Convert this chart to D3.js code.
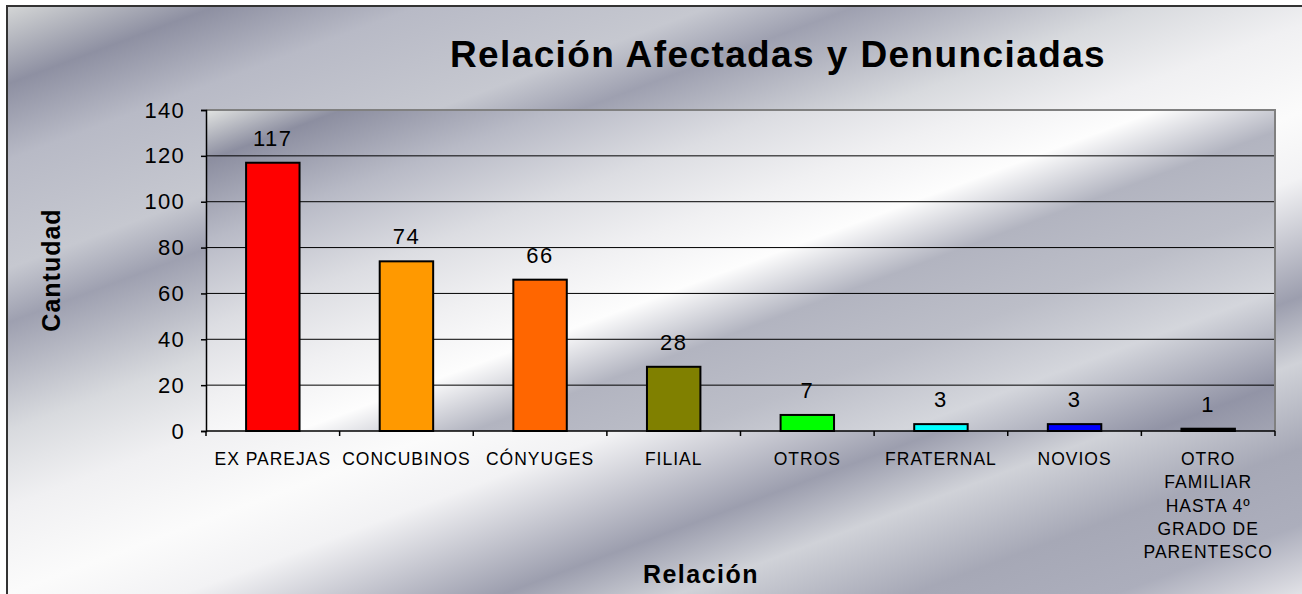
<!DOCTYPE html>
<html>
<head>
<meta charset="utf-8">
<script src="https://cdn.jsdelivr.net/npm/d3@7"></script>
<style>
  body { margin: 0; background: #fff; }
  svg text { font-family: "Liberation Sans", Arial, sans-serif; fill: #000; }
</style>
</head>
<body>
<div id="chart"></div>
<script>
// data
const categories = ["EX PAREJAS", "CONCUBINOS", "CÓNYUGES", "FILIAL", "OTROS", "FRATERNAL", "NOVIOS",
  "OTRO|FAMILIAR|HASTA 4º|GRADO DE|PARENTESCO"];
const values = [117, 74, 66, 28, 7, 3, 3, 1];
const barColors = ["#ff0000", "#ff9900", "#ff6600", "#808000", "#00ff00", "#00ffff", "#0000ff", "#000000"];
const yTicks = [0, 20, 40, 60, 80, 100, 120, 140];

const W = 1302, H = 594;
const margin = { top: 110, right: 27, bottom: 163, left: 206 };
const width = W - margin.left - margin.right;
const height = H - margin.top - margin.bottom;

const svg = d3.select("#chart").append("svg")
  .attr("width", W)
  .attr("height", H);

const defs = svg.append("defs");

// silver background, streaks running up to the right
const outerStops = [
  [0, "#dcdedc"], [0.08, "#8e90a2"], [0.15, "#b8bac6"], [0.25, "#c6c8d0"], [0.30, "#9ea0b0"],
  [0.40, "#d8dade"], [0.47, "#f0f0f2"], [0.55, "#fbfbfb"], [0.61, "#f2f2f4"], [0.72, "#9c9eae"],
  [0.78, "#d0d2d8"], [0.86, "#a6a8b6"], [0.93, "#acaebc"], [1, "#e6e6ea"]
];
defs.append("linearGradient")
  .attr("id", "bgGrad")
  .attr("gradientUnits", "userSpaceOnUse")
  .attr("x1", 0).attr("y1", 0).attr("x2", 355).attr("y2", 953)
  .selectAll("stop").data(outerStops).join("stop")
  .attr("offset", d => d[0]).attr("stop-color", d => d[1]);

const plotStops = [
  [0, "#e2e4e2"], [0.07, "#8c8ea0"], [0.18, "#b8bac6"], [0.30, "#dcdde2"], [0.40, "#f0f0f2"],
  [0.49, "#fdfdfd"], [0.58, "#b2b4c0"], [0.69, "#bcbec8"], [0.80, "#d4d6dc"], [0.93, "#9294a6"], [1, "#a4a6b4"]
];
defs.append("linearGradient")
  .attr("id", "plotGrad")
  .attr("gradientUnits", "userSpaceOnUse")
  .attr("x1", 0).attr("y1", 0).attr("x2", 237).attr("y2", 636)
  .selectAll("stop").data(plotStops).join("stop")
  .attr("offset", d => d[0]).attr("stop-color", d => d[1]);

svg.append("rect")
  .attr("x", 7).attr("y", 6)
  .attr("width", W).attr("height", H)
  .attr("fill", "url(#bgGrad)")
  .attr("stroke", "#333")
  .attr("stroke-width", 2);

const g = svg.append("g")
  .attr("transform", `translate(${margin.left},${margin.top})`);

const x = d3.scaleBand()
  .domain(categories)
  .range([0, width])
  .paddingInner(0.6)
  .paddingOuter(0.3);

const y = d3.scaleLinear()
  .domain([0, 140])
  .range([height, 0]);

// plot area
g.append("rect")
  .attr("width", width).attr("height", height)
  .attr("fill", "url(#plotGrad)");

// gridlines
g.selectAll(".grid").data(yTicks.filter(d => d > 0 && d < 140)).join("line")
  .attr("x1", 0).attr("x2", width)
  .attr("y1", d => y(d)).attr("y2", d => y(d))
  .attr("stroke", "#000").attr("stroke-width", 1);

// plot border top & right
g.append("path")
  .attr("d", `M0,${y(140)}H${width}V${height}`)
  .attr("fill", "none")
  .attr("stroke", "#808080")
  .attr("stroke-width", 2);

// bars
g.selectAll(".bar").data(values).join("rect")
  .attr("x", (d, i) => x(categories[i]))
  .attr("y", d => y(d))
  .attr("width", x.bandwidth())
  .attr("height", d => height - y(d))
  .attr("fill", (d, i) => barColors[i])
  .attr("stroke", "#000")
  .attr("stroke-width", 2);

// value labels
g.selectAll(".val").data(values).join("text")
  .attr("x", (d, i) => x(categories[i]) + x.bandwidth() / 2)
  .attr("y", d => y(d) - 17)
  .attr("text-anchor", "middle")
  .style("font-size", "22px")
  .style("letter-spacing", "1.5px")
  .text(d => d);

// y axis
const yAxis = g.append("g")
  .call(d3.axisLeft(y).tickValues(yTicks).tickSize(5).tickPadding(16));
yAxis.select(".domain").attr("stroke", "#000").attr("stroke-width", 1.5);
yAxis.selectAll(".tick line").attr("stroke", "#000").attr("stroke-width", 1.5);
yAxis.selectAll(".tick text")
  .style("font-size", "22px")
  .style("letter-spacing", "1.3px")
  .attr("font-family", null);

// x axis: ticks sit between categories
const bounds = d3.range(categories.length + 1).map(i => i * width / categories.length);
const xAxis = g.append("g").attr("transform", `translate(0,${height})`);
xAxis.append("line")
  .attr("x1", 0).attr("x2", width)
  .attr("stroke", "#000").attr("stroke-width", 1.5);
xAxis.selectAll(".xt").data(bounds).join("line")
  .attr("x1", d => d).attr("x2", d => d)
  .attr("y1", 0).attr("y2", 5)
  .attr("stroke", "#000").attr("stroke-width", 1.5);

const catLabels = xAxis.selectAll(".cat").data(categories).join("text")
  .attr("text-anchor", "middle")
  .style("font-size", "17.5px")
  .style("letter-spacing", "1px");
catLabels.each(function(d) {
  const t = d3.select(this);
  const cx = x(d) + x.bandwidth() / 2;
  d.split("|").forEach((line, i) => {
    t.append("tspan")
      .attr("x", cx)
      .attr("y", 34 + i * 23.3)
      .text(line);
  });
});

// titles
svg.append("text")
  .attr("x", 778).attr("y", 67)
  .attr("text-anchor", "middle")
  .style("font-size", "37px")
  .style("font-weight", "bold")
  .style("letter-spacing", "1.4px")
  .text("Relación Afectadas y Denunciadas");

svg.append("text")
  .attr("x", 701).attr("y", 583)
  .attr("text-anchor", "middle")
  .style("font-size", "25px")
  .style("font-weight", "bold")
  .style("letter-spacing", "1.5px")
  .text("Relación");

svg.append("text")
  .attr("transform", "translate(60,270) rotate(-90)")
  .attr("text-anchor", "middle")
  .style("font-size", "25px")
  .style("font-weight", "bold")
  .style("letter-spacing", "1px")
  .text("Cantudad");
</script>
</body>
</html>
